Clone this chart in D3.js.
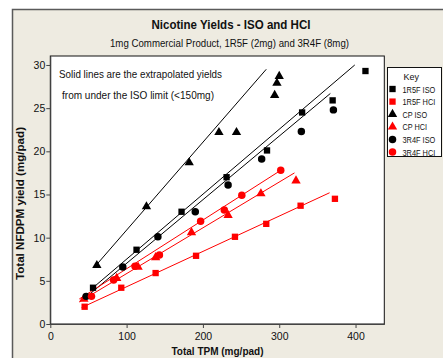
<!DOCTYPE html>
<html>
<head>
<meta charset="utf-8">
<script src="https://cdn.jsdelivr.net/npm/d3@7"></script>
<style>
  body { margin: 0; background: #fff; }
  text { font-family: "Liberation Sans", Arial, sans-serif; fill: #111; }
</style>
</head>
<body>
<div id="chart"></div>
<script>
const width = 443, height = 358;

// tick values
const xTicks = [0, 100, 200, 300, 400];
const yTicks = [0, 5, 10, 15, 20, 25, 30];

// series: [TPM, NFDPM]
const r1f_iso = [[56, 4.2], [113, 8.6], [172, 13.0], [231, 17.0], [284, 20.1], [330, 24.5], [370, 25.9], [413, 29.3]];
const r1f_hci = [[45, 2.0], [93, 4.2], [138, 5.9], [191, 7.9], [242, 10.1], [283, 11.6], [328, 13.7], [373, 14.5]];
const cp_iso = [[61, 6.8], [126, 13.6], [182, 18.7], [221, 22.2], [244, 22.2], [294, 26.5], [297, 27.9], [300, 28.7]];
const cp_hci = [[44, 2.9], [87, 5.3], [115, 6.6], [138, 7.7], [185, 10.6], [233, 12.6], [276, 15.1], [322, 16.6]];
const r4f_iso = [[47, 3.2], [95, 6.6], [141, 10.1], [190, 13.0], [233, 16.1], [277, 19.1], [329, 22.3], [371, 24.8]];
const r4f_hci = [[54, 3.2], [83, 5.1], [111, 6.7], [143, 8.0], [197, 11.9], [228, 13.2], [251, 14.9], [302, 17.8]];

// extrapolated line ends
const r1f_iso_line = [[52, 3.9], [399, 30.0]];
const r4f_iso_line = [[44, 2.9], [367, 26.7]];
const cp_iso_line = [[58, 6.6], [283, 29.5]];
const r1f_hci_line = [[41, 1.9], [366, 15.2]];
const cp_hci_line = [[38, 2.55], [320, 17.5]];
const r4f_hci_line = [[38, 2.9], [302, 17.8]];

const series = [
  { name: "1R5F ISO", pts: r1f_iso, line: r1f_iso_line, color: "#000", shape: "square" },
  { name: "1R5F HCI", pts: r1f_hci, line: r1f_hci_line, color: "#f00", shape: "square" },
  { name: "CP ISO", pts: cp_iso, line: cp_iso_line, color: "#000", shape: "triangle" },
  { name: "CP HCI", pts: cp_hci, line: cp_hci_line, color: "#f00", shape: "triangle" },
  { name: "3R4F ISO", pts: r4f_iso, line: r4f_iso_line, color: "#000", shape: "circle" },
  { name: "3R4F HCI", pts: r4f_hci, line: r4f_hci_line, color: "#f00", shape: "circle" }
];

const margin = { left: 50.3, top: 56, right: 384.3, bottom: 324 };

const svg = d3.select("#chart")
  .append("svg")
  .attr("width", width)
  .attr("height", height);

// panel background with its frame
svg.append("rect")
  .attr("x", 12.5).attr("y", 9.5)
  .attr("width", 460).attr("height", 380)
  .attr("fill", "#eeebe1")
  .attr("stroke", "#5a5a5a")
  .attr("stroke-width", 1.5);

const x = d3.scaleLinear().domain([0, 437.7]).range([margin.left, margin.right]);
const y = d3.scaleLinear().domain([0, 31.04]).range([margin.bottom, margin.top]);

svg.append("rect")
  .attr("x", margin.left).attr("y", margin.top)
  .attr("width", margin.right - margin.left)
  .attr("height", margin.bottom - margin.top)
  .attr("fill", "#fff")
  .attr("stroke", "#111");

// axes
const xAxis = svg.append("g")
  .attr("transform", `translate(0,${margin.bottom})`)
  .call(d3.axisBottom(x).tickValues(xTicks).tickSize(4).tickSizeOuter(0));
const yAxis = svg.append("g")
  .attr("transform", `translate(${margin.left},0)`)
  .call(d3.axisLeft(y).tickValues(yTicks).tickSize(4).tickSizeOuter(0).tickPadding(1));

[xAxis, yAxis].forEach(a => {
  a.select(".domain").attr("stroke", "#444");
  a.selectAll(".tick line").attr("stroke", "#444");
  a.selectAll("text")
    .attr("font-family", "Liberation Sans, Arial, sans-serif")
    .attr("font-size", 10.5)
    .attr("fill", "#222");
});
xAxis.selectAll("text").attr("dy", "0.9em");

// titles
svg.append("text")
  .attr("x", 231).attr("y", 29)
  .attr("text-anchor", "middle")
  .attr("font-weight", "bold")
  .attr("font-size", 12.5)
  .attr("textLength", 159).attr("lengthAdjust", "spacingAndGlyphs")
  .text("Nicotine Yields - ISO and HCI");

svg.append("text")
  .attr("x", 229.5).attr("y", 47)
  .attr("text-anchor", "middle")
  .attr("font-size", 11)
  .attr("textLength", 239).attr("lengthAdjust", "spacingAndGlyphs")
  .text("1mg Commercial Product, 1R5F (2mg) and 3R4F (8mg)");

svg.append("text")
  .attr("x", 217.5).attr("y", 355)
  .attr("text-anchor", "middle")
  .attr("font-weight", "bold")
  .attr("font-size", 11.5)
  .attr("textLength", 92).attr("lengthAdjust", "spacingAndGlyphs")
  .text("Total TPM (mg/pad)");

svg.append("text")
  .attr("transform", "translate(24,203.5) rotate(-90)")
  .attr("text-anchor", "middle")
  .attr("font-weight", "bold")
  .attr("font-size", 11.5)
  .attr("textLength", 153).attr("lengthAdjust", "spacingAndGlyphs")
  .text("Total NFDPM yield (mg/pad)");

// note
svg.append("text")
  .attr("x", 59).attr("y", 78)
  .attr("font-size", 11)
  .attr("textLength", 163).attr("lengthAdjust", "spacingAndGlyphs")
  .text("Solid lines are the extrapolated yields");
svg.append("text")
  .attr("x", 62).attr("y", 99)
  .attr("font-size", 11)
  .attr("textLength", 152).attr("lengthAdjust", "spacingAndGlyphs")
  .text("from under the ISO limit (<150mg)");

// symbols
const symbolType = { square: d3.symbolSquare, triangle: d3.symbolTriangle, circle: d3.symbolCircle };
const symbolSize = { square: 40, triangle: 38, circle: 44 };

const lineGen = d3.line().x(d => x(d[0])).y(d => y(d[1]));

series.forEach(s => {
  svg.append("path")
    .attr("d", lineGen(s.line))
    .attr("fill", "none")
    .attr("stroke", s.color)
    .attr("stroke-width", 1);
});

series.forEach(s => {
  svg.selectAll(null)
    .data(s.pts)
    .join("path")
      .attr("transform", d => `translate(${x(d[0])},${y(d[1])})`)
      .attr("d", d3.symbol(symbolType[s.shape], symbolSize[s.shape]))
      .attr("fill", s.color);
});

// legend
const legend = svg.append("g").attr("transform", "translate(387.5,67.5)");
legend.append("rect")
  .attr("width", 54).attr("height", 89)
  .attr("fill", "#fff")
  .attr("stroke", "#111");
legend.append("text")
  .attr("x", 16).attr("y", 12.5)
  .attr("font-size", 9)
  .text("Key");
series.forEach((s, i) => {
  const row = legend.append("g").attr("transform", `translate(0,${21.5 + i * 12.6})`);
  row.append("path")
    .attr("transform", "translate(5,0)")
    .attr("d", d3.symbol(symbolType[s.shape], symbolSize[s.shape]))
    .attr("fill", s.color);
  row.append("text")
    .attr("x", 15).attr("y", 3.5)
    .attr("font-size", 8.5)
    .attr("textLength", s.name.length * 4.1).attr("lengthAdjust", "spacingAndGlyphs")
    .text(s.name);
});
</script>
</body>
</html>
